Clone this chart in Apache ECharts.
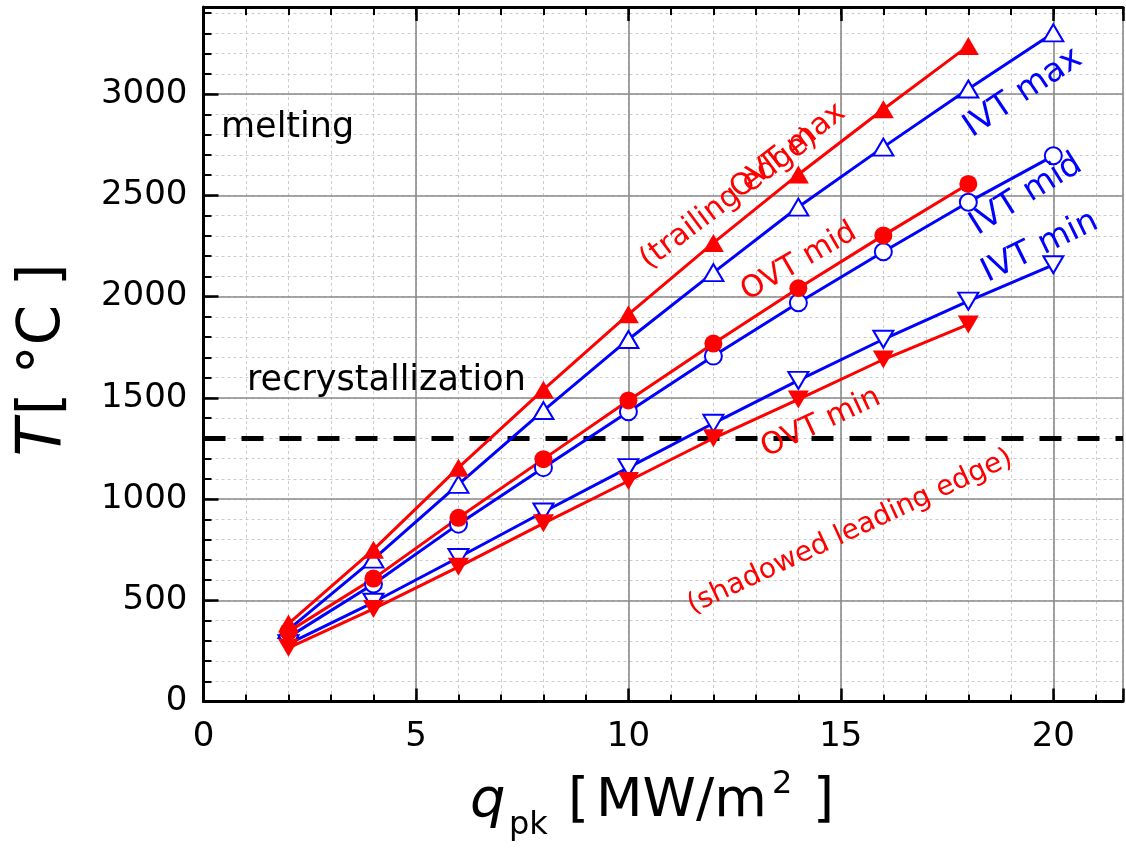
<!DOCTYPE html>
<html>
<head>
<meta charset="utf-8">
<script src="https://cdn.jsdelivr.net/npm/echarts@6/dist/echarts.min.js"></script>
<style>
  html, body { margin: 0; padding: 0; background: #ffffff; }
  #chart { width: 1126px; height: 851px; }
</style>
</head>
<body>
<div id="chart"></div>
<script>
// Peak heat flux q_pk [MW/m2] for each simulated case
const qOVT = [2, 4, 6, 8, 10, 12, 14, 16, 18];
const qIVT = [2, 4, 6, 8, 10, 12, 14, 16, 18, 20];

// Surface temperatures T [°C]
const ovtMax = [385, 750, 1155, 1540, 1912, 2265, 2603, 2925, 3238];
const ivtMax = [355, 703, 1072, 1437, 1788, 2118, 2442, 2738, 3025, 3302];
const ovtMid = [345, 607, 907, 1197, 1487, 1768, 2041, 2302, 2556];
const ivtMid = [318, 580, 876, 1155, 1431, 1706, 1969, 2221, 2466, 2695];
const ivtMin = [285, 490, 711, 936, 1155, 1374, 1586, 1789, 1977, 2157];
const ovtMin = [265, 457, 665, 880, 1089, 1300, 1492, 1689, 1862];

// Recrystallization threshold temperature [°C]
const RECRYST_T = 1300;

// Tick labels
const xTickLabels = ['0', '5', '10', '15', '20'];
const yTickLabels = ['0', '500', '1000', '1500', '2000', '2500', '3000'];

const X_MAX = 21.64;
const Y_MAX = 3430;
const FONT = '"DejaVu Sans", "Liberation Sans", sans-serif';
const RED = '#ff0000';
const BLUE = '#0000ff';

function pairs(xs, ys) { return xs.map((x, i) => [x, ys[i]]); }

const labelOf = (list) => (v) => (list.indexOf(String(v)) >= 0 ? String(v) : '');

const majorGrid = { show: true, lineStyle: { color: '#8a8a8a', width: 1.6, type: 'solid' } };
const minorGrid = { show: true, lineStyle: { color: '#cccccc', width: 1, type: [3, 3] } };
const blackLine = { show: true, onZero: false, lineStyle: { color: '#000', width: 3 } };

function xAxis(opts) {
  return Object.assign({
    type: 'value', min: 0, max: X_MAX, gridIndex: 0,
    axisLine: { show: false, onZero: false },
    axisTick: { show: false },
    axisLabel: { show: false },
    splitLine: { show: false },
    minorTick: { show: false }
  }, opts);
}
function yAxis(opts) {
  return Object.assign({
    type: 'value', min: 0, max: Y_MAX, gridIndex: 0,
    axisLine: { show: false, onZero: false },
    axisTick: { show: false },
    axisLabel: { show: false },
    splitLine: { show: false },
    minorTick: { show: false }
  }, opts);
}

const DOWN_TRI = 'path://M0,0 L20,0 L10,17 Z';

function lineSeries(name, xs, ys, color, symbol, size, open) {
  return {
    name: name,
    type: 'line',
    xAxisIndex: 0, yAxisIndex: 0,
    data: pairs(xs, ys),
    symbol: symbol,
    symbolSize: size,
    showAllSymbol: true,
    lineStyle: { color: color, width: 3 },
    itemStyle: open
      ? { color: '#ffffff', borderColor: color, borderWidth: 2 }
      : { color: color, borderColor: color, borderWidth: 0 },
    emphasis: { disabled: true },
    animation: false,
    z: 3
  };
}

function rotText(text, x, y, deg, color, size) {
  return {
    type: 'text', x: x, y: y, rotation: deg * Math.PI / 180, z: 20,
    style: {
      text: text, fill: color, font: size + 'px ' + FONT,
      align: 'center', verticalAlign: 'middle',
      textAlign: 'center', textVerticalAlign: 'middle'
    }
  };
}
function plainText(text, x, y, size, style) {
  return {
    type: 'text', x: x, y: y, z: 20,
    style: {
      text: text, fill: '#000', font: (style || '') + ' ' + size + 'px ' + FONT,
      align: 'left', verticalAlign: 'middle',
      textAlign: 'left', textVerticalAlign: 'middle'
    }
  };
}

const chart = echarts.init(document.getElementById('chart'), null, { renderer: 'canvas' });

chart.setOption({
  backgroundColor: '#ffffff',
  animation: false,
  grid: { left: 203.5, right: 0, top: 7, bottom: 149.5, containLabel: false },
  xAxis: [
    // main bottom axis: labels, major ticks and grid
    xAxis({
      position: 'bottom', interval: 5, z: 1,
      axisLine: blackLine,
      axisTick: { show: true, inside: true, length: 13, lineStyle: { color: '#000', width: 2.5 } },
      axisLabel: { show: true, formatter: labelOf(xTickLabels), color: '#000', fontSize: 34, fontFamily: FONT, margin: 19 },
      splitLine: majorGrid
    }),
    // minor ticks and dotted grid
    xAxis({
      position: 'bottom', interval: 1, z: 0,
      axisTick: { show: true, inside: true, length: 7, lineStyle: { color: '#000', width: 2 } },
      splitLine: minorGrid
    }),
    // top frame
    xAxis({
      position: 'top', interval: 5, z: 1,
      axisLine: blackLine,
      axisTick: { show: true, inside: true, length: 14, lineStyle: { color: '#000', width: 2.5 } }
    }),
    xAxis({
      position: 'top', interval: 1, z: 1,
      axisTick: { show: true, inside: true, length: 8, lineStyle: { color: '#000', width: 2 } }
    })
  ],
  yAxis: [
    yAxis({
      position: 'left', interval: 500, z: 1,
      axisLine: blackLine,
      axisTick: { show: true, inside: true, length: 15, lineStyle: { color: '#000', width: 2.5 } },
      axisLabel: { show: true, formatter: labelOf(yTickLabels), color: '#000', fontSize: 34, fontFamily: FONT, margin: 16 },
      splitLine: majorGrid
    }),
    yAxis({
      position: 'left', interval: 100, z: 0,
      axisTick: { show: true, inside: true, length: 8, lineStyle: { color: '#000', width: 2 } },
      splitLine: minorGrid
    })
  ],
  series: [
    Object.assign(lineSeries('IVT max', qIVT, ivtMax, BLUE, 'triangle', [20, 17], true), {
      markLine: {
        silent: true, symbol: 'none', label: { show: false },
        lineStyle: { color: '#000', width: 5, type: [22, 16] },
        data: [{ yAxis: RECRYST_T }],
        z: 2
      }
    }),
    lineSeries('IVT mid', qIVT, ivtMid, BLUE, 'circle', 17, true),
    lineSeries('IVT min', qIVT, ivtMin, BLUE, DOWN_TRI, [20, 17], true),
    lineSeries('OVT max', qOVT, ovtMax, RED, 'triangle', [21, 18], false),
    lineSeries('OVT mid', qOVT, ovtMid, RED, 'circle', 18, false),
    lineSeries('OVT min', qOVT, ovtMin, RED, DOWN_TRI, [21, 18], false)
  ],
  graphic: [
    plainText('melting', 221, 128, 35),
    plainText('recrystallization', 247, 381, 35),
    rotText('OVT max', 788, 151, 38, RED, 30),
    rotText('(trailing edge)', 729, 199, 37, RED, 30),
    rotText('OVT mid', 799, 262, 30, RED, 30),
    rotText('OVT min', 821, 423, 25, RED, 30),
    rotText('(shadowed leading edge)', 850, 532, 25, RED, 28),
    rotText('IVT max', 1023, 93, 34, BLUE, 33),
    rotText('IVT mid', 1026, 195, 32, BLUE, 33),
    rotText('IVT min', 1040, 247, 26, BLUE, 33),
    // y-axis title
    {
      type: 'text', x: 44, y: 360, rotation: Math.PI / 2, z: 20,
      style: {
        text: '{it|T} {n|[ °C ]}',
        align: 'center', verticalAlign: 'middle',
        textAlign: 'center', textVerticalAlign: 'middle',
        rich: {
          it: { font: 'italic 62px ' + FONT, fill: '#000' },
          n: { font: '58px ' + FONT, fill: '#000' }
        }
      }
    },
    // x-axis title
    plainText('q', 470, 802, 56, 'italic'),
    plainText('pk', 509, 826, 32),
    plainText('[', 568, 802, 54),
    plainText('MW/m', 596, 802, 54),
    plainText('2', 772, 785, 32),
    plainText(']', 813, 802, 54)
  ]
});
</script>
</body>
</html>
